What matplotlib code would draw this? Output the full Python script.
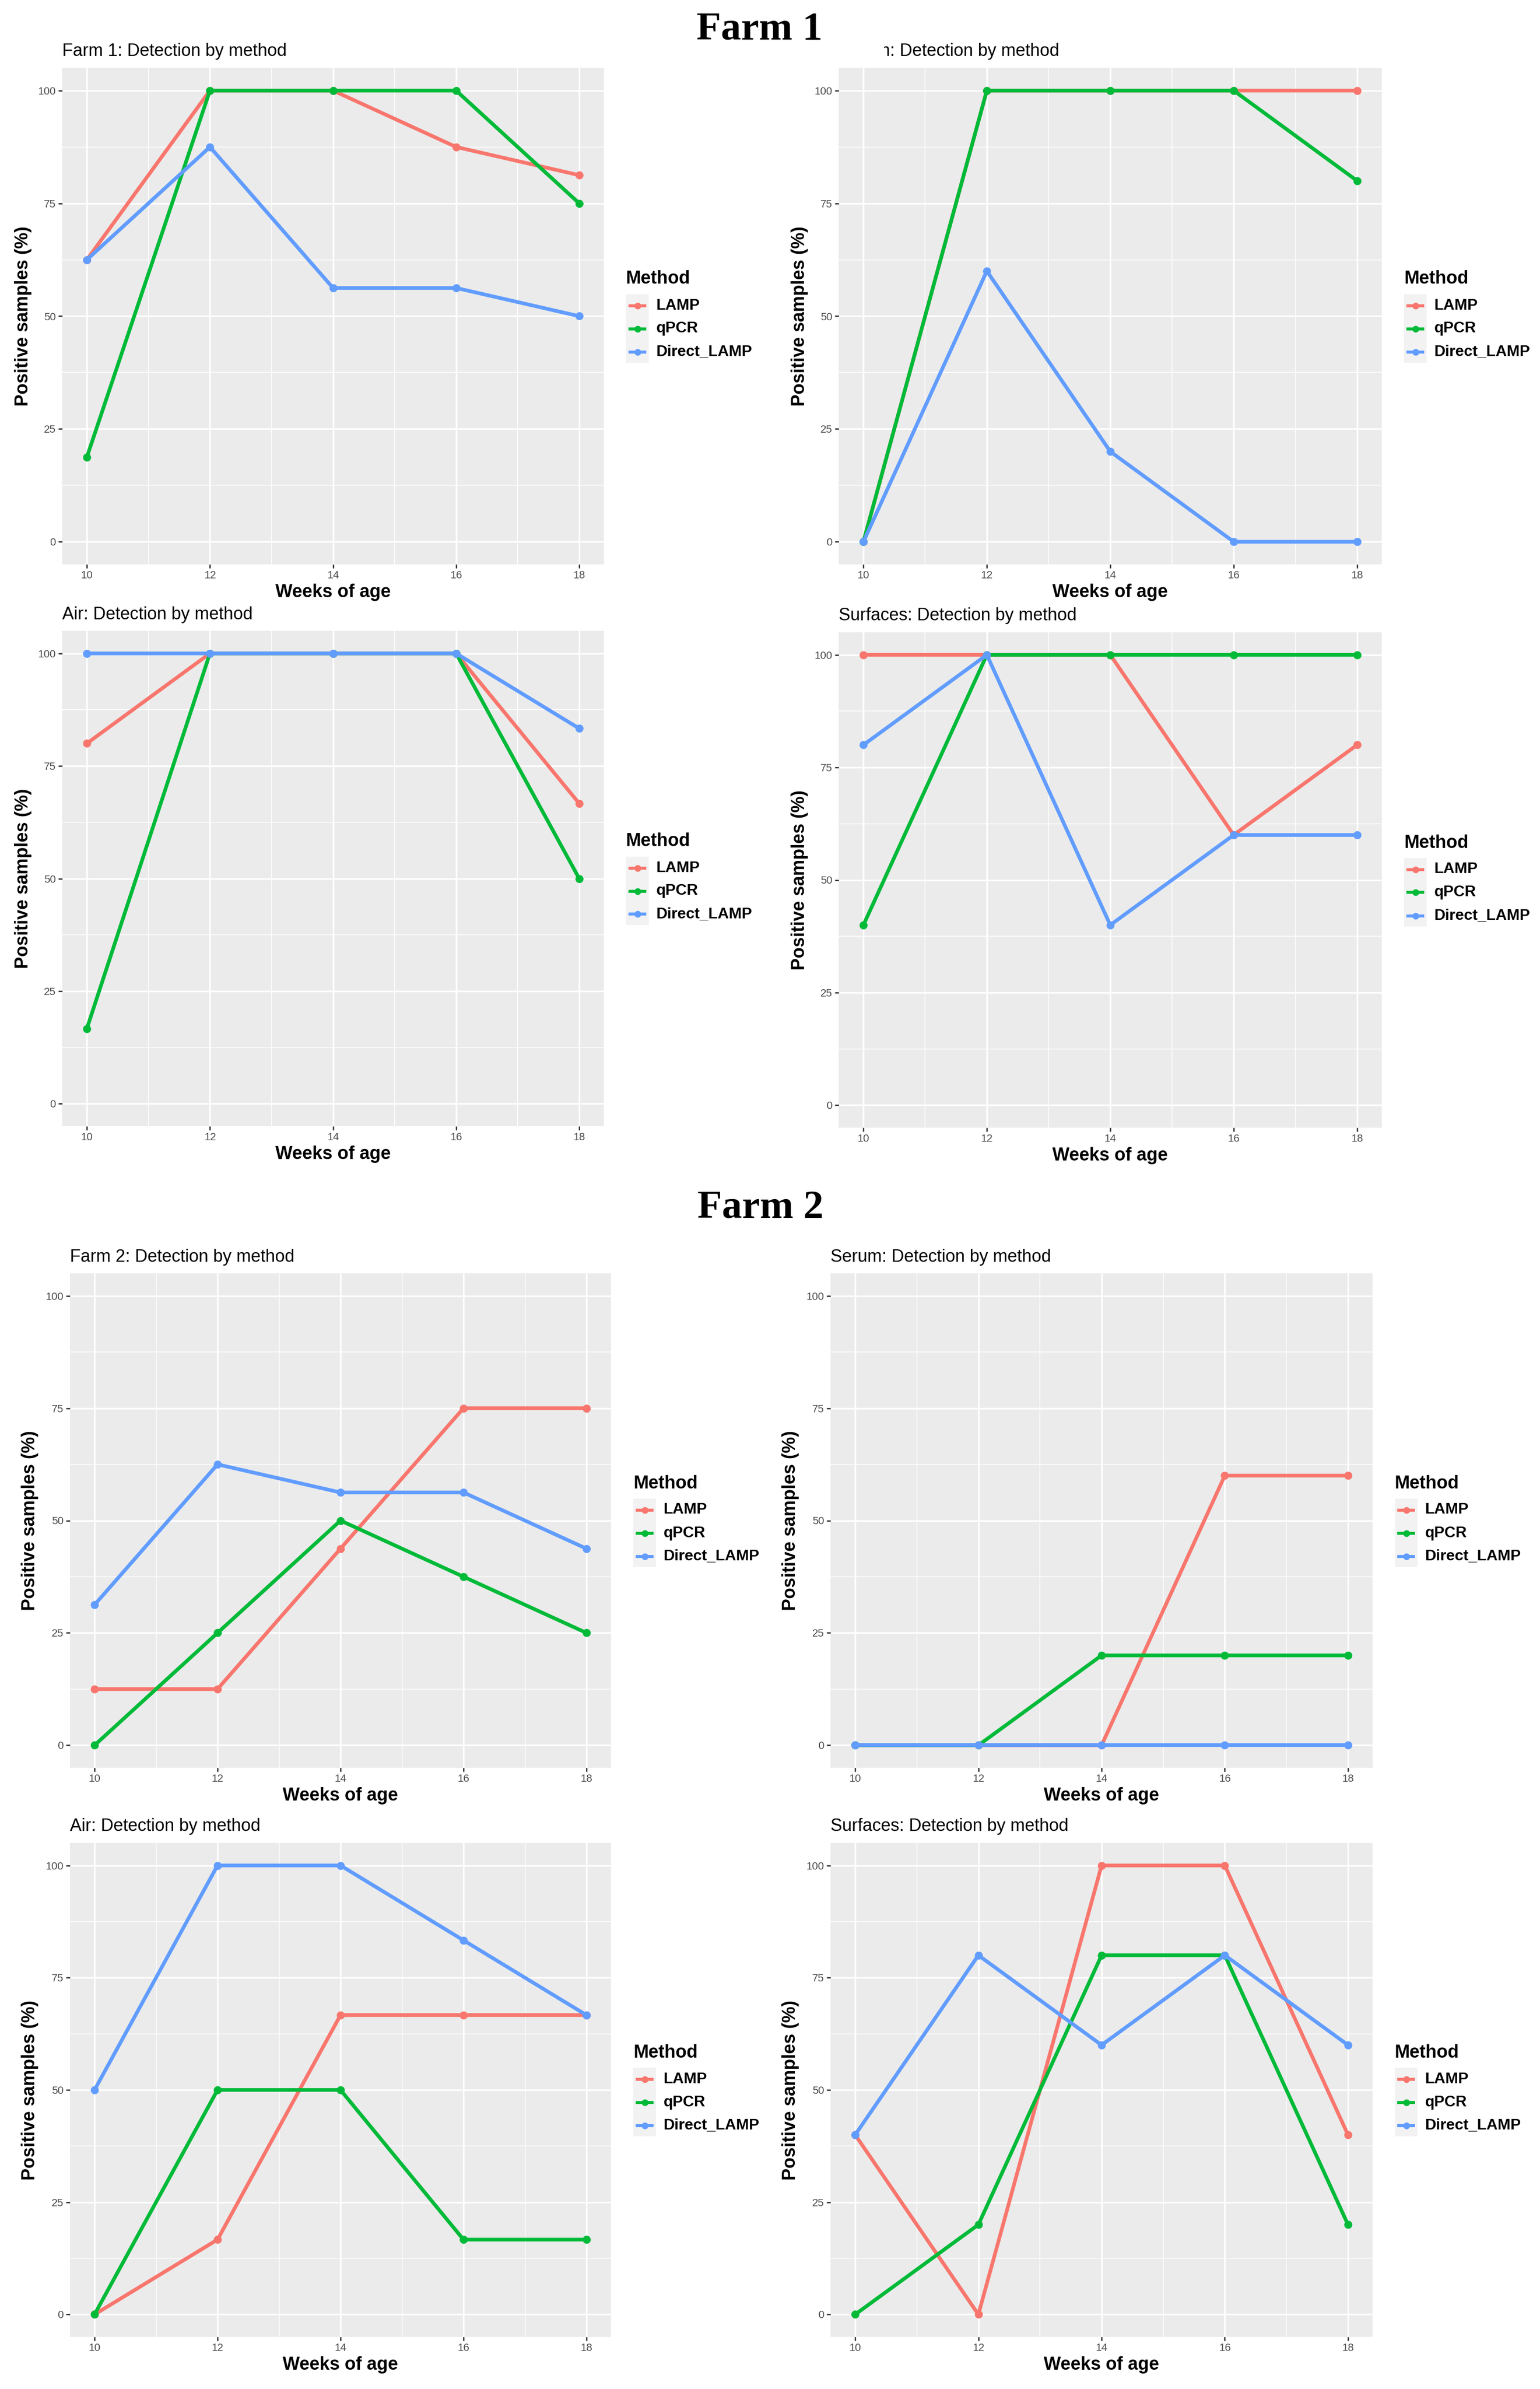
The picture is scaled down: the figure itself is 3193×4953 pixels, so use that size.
import matplotlib
matplotlib.use("Agg")
import matplotlib.pyplot as plt
from matplotlib.lines import Line2D
from matplotlib.patches import Rectangle

plt.rcParams['font.family'] = ['Liberation Sans', 'DejaVu Sans']

W, H = 3193, 4953

weeks = [10, 12, 14, 16, 18]
methods = ["LAMP", "qPCR", "Direct_LAMP"]
colors = ["#F8766D", "#00BA38", "#619CFF"]

# Farm 1
f1_all_lamp = [62.5, 100, 100, 87.5, 81.25]
f1_all_qpcr = [18.75, 100, 100, 100, 75]
f1_all_direct = [62.5, 87.5, 56.25, 56.25, 50]

f1_serum_lamp = [0, 100, 100, 100, 100]
f1_serum_qpcr = [0, 100, 100, 100, 80]
f1_serum_direct = [0, 60, 20, 0, 0]

f1_air_lamp = [80, 100, 100, 100, 66.67]
f1_air_qpcr = [16.67, 100, 100, 100, 50]
f1_air_direct = [100, 100, 100, 100, 83.33]

f1_surf_lamp = [100, 100, 100, 60, 80]
f1_surf_qpcr = [40, 100, 100, 100, 100]
f1_surf_direct = [80, 100, 40, 60, 60]

# Farm 2
f2_all_lamp = [12.5, 12.5, 43.75, 75, 75]
f2_all_qpcr = [0, 25, 50, 37.5, 25]
f2_all_direct = [31.25, 62.5, 56.25, 56.25, 43.75]

f2_serum_lamp = [0, 0, 0, 60, 60]
f2_serum_qpcr = [0, 0, 20, 20, 20]
f2_serum_direct = [0, 0, 0, 0, 0]

f2_air_lamp = [0, 16.67, 66.67, 66.67, 66.67]
f2_air_qpcr = [0, 50, 50, 16.67, 16.67]
f2_air_direct = [50, 100, 100, 83.33, 66.67]

f2_surf_lamp = [40, 0, 100, 100, 40]
f2_surf_qpcr = [0, 20, 80, 80, 20]
f2_surf_direct = [40, 80, 60, 80, 60]

titles = ["Farm 1: Detection by method", "Serum: Detection by method",
          "Air: Detection by method", "Surfaces: Detection by method",
          "Farm 2: Detection by method", "Serum: Detection by method",
          "Air: Detection by method", "Surfaces: Detection by method"]

series = [
    (f1_all_lamp, f1_all_qpcr, f1_all_direct),
    (f1_serum_lamp, f1_serum_qpcr, f1_serum_direct),
    (f1_air_lamp, f1_air_qpcr, f1_air_direct),
    (f1_surf_lamp, f1_surf_qpcr, f1_surf_direct),
    (f2_all_lamp, f2_all_qpcr, f2_all_direct),
    (f2_serum_lamp, f2_serum_qpcr, f2_serum_direct),
    (f2_air_lamp, f2_air_qpcr, f2_air_direct),
    (f2_surf_lamp, f2_surf_qpcr, f2_surf_direct),
]

# panel boxes in pixels: left, top, right, bottom
boxes = [
    (129, 141, 1252, 1170), (1739, 141, 2865, 1170),
    (129, 1308, 1252, 2335), (1739, 1311, 2865, 2338),
    (145, 2640, 1267, 3665), (1722, 2640, 2846, 3665),
    (145, 3821, 1267, 4845), (1722, 3821, 2846, 4845),
]
ylab_off = [81, 81, 81, 81, 83, 83, 83, 83]

fig = plt.figure(figsize=(W / 100, H / 100), dpi=100)
fig.patch.set_facecolor("white")


def fx(x):
    return x / W


def fy(y):
    return 1 - y / H


for box, title, data, yo in zip(boxes, titles, series, ylab_off):
    x0, y0, x1, y1 = box
    ax = fig.add_axes([fx(x0), fy(y1), (x1 - x0) / W, (y1 - y0) / H])
    ax.set_facecolor("#EBEBEB")
    for vals, c in zip(data, colors):
        ax.plot(weeks, vals, color=c, lw=5.5, marker="o", ms=11, zorder=3)
    ax.set_xlim(9.6, 18.4)
    ax.set_ylim(-5, 105)
    ax.set_xticks(weeks)
    ax.set_yticks([0, 25, 50, 75, 100])
    ax.set_xticks([11, 13, 15, 17], minor=True)
    ax.set_yticks([12.5, 37.5, 62.5, 87.5], minor=True)
    ax.grid(which="major", color="white", lw=2.4)
    ax.grid(which="minor", color="white", lw=1.1)
    ax.set_axisbelow(True)
    for s in ax.spines.values():
        s.set_visible(False)
    ax.tick_params(which="major", length=5.5, width=2, color="#333333",
                   labelsize=16, labelcolor="#4D4D4D", pad=4)
    ax.tick_params(which="minor", length=0)

    fig.text(fx(x0), fy(y0 - 34), title, fontsize=26, ha="left", va="center")
    fig.text(fx((x0 + x1) / 2), fy(y1 + 58), "Weeks of age", fontsize=27,
             fontweight="bold", ha="center", va="center")
    fig.text(fx(x0 - yo), fy((y0 + y1) / 2), "Positive samples (%)", fontsize=27,
             fontweight="bold", ha="center", va="center", rotation=90)

    # legend
    cy = (y0 + y1) / 2
    lx = x1 + 46
    fig.text(fx(lx), fy(cy - 77), "Method", fontsize=27, fontweight="bold",
             ha="left", va="center")
    fig.add_artist(Rectangle((fx(lx), fy(cy + 96)), 47 / W, 142 / H,
                             transform=fig.transFigure, facecolor="#F2F2F2",
                             edgecolor="none"))
    for i, (m, c) in enumerate(zip(methods, colors)):
        ky = cy - 22 + i * 48
        fig.add_artist(Line2D([fx(lx + 5), fx(lx + 42)], [fy(ky), fy(ky)],
                              transform=fig.transFigure, color=c, lw=4.5,
                              marker="", solid_capstyle="butt"))
        fig.add_artist(Line2D([fx(lx + 23.5)], [fy(ky)], transform=fig.transFigure,
                              color=c, marker="o", ms=9, lw=0))
        fig.text(fx(x1 + 109), fy(ky), m, fontsize=23, fontweight="bold",
                 ha="left", va="center")

# white box over the start of the top-right title, as in the source figure
fig.add_artist(Rectangle((fx(1700), fy(140)), 133 / W, 70 / H,
                         transform=fig.transFigure, facecolor="white",
                         edgecolor="none", zorder=10))

fig.text(fx(1575), fy(62), "Farm 1", fontsize=60, fontweight="bold",
         family=["Liberation Serif", "DejaVu Serif"], ha="center", va="center", zorder=11)
fig.text(fx(1577), fy(2506), "Farm 2", fontsize=60, fontweight="bold",
         family=["Liberation Serif", "DejaVu Serif"], ha="center", va="center", zorder=11)

fig.savefig("out.png", dpi=100, facecolor="white")
